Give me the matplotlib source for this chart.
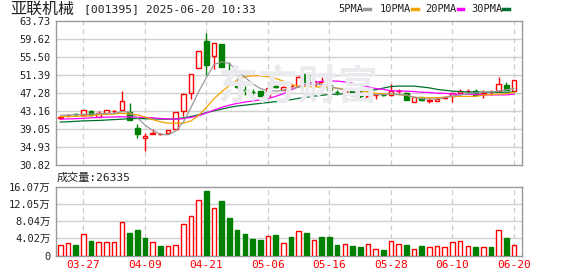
import matplotlib
matplotlib.use("Agg")
import matplotlib.pyplot as plt
from matplotlib.patches import Rectangle

plt.rcParams['font.family'] = ['DejaVu Sans Mono', 'Noto Sans CJK SC']

# daily OHLC (index 0 = 03-24, index 59 = 06-20)
opens = [41.45, 42.2, 42.5, 42.25, 43.1, 41.9, 42.6, 43.1, 43.3, 43.0,
         39.3, 37.1, 37.9, 37.8, 38.1, 39.0, 43.24, 47.3, 53.0, 59.2,
         55.7, 58.5, 49.9, 49.56, 48.0, 47.6, 47.75, 46.7, 48.8, 47.96,
         48.9, 48.9, 51.6, 49.1, 49.4, 49.04, 47.5, 47.3, 47.75, 46.65,
         46.2, 46.8, 46.9, 46.93, 47.7, 47.38, 45.33, 46.4, 45.55, 45.5,
         46.2, 46.6, 47.3, 47.7, 47.83, 47.15, 47.5, 47.7, 49.1, 47.8]
closes = [41.7, 42.3, 42.4, 43.4, 42.3, 42.6, 43.3, 43.2, 45.35, 41.0,
          37.8, 37.45, 38.1, 37.95, 38.8, 42.86, 47.15, 51.67, 56.95, 53.6,
          58.7, 53.2, 49.6, 48.65, 47.85, 47.45, 46.5, 48.5, 48.7, 48.7,
          49.1, 50.9, 49.9, 50.0, 49.7, 48.06, 47.4, 48.13, 46.93, 46.55,
          46.6, 46.9, 46.8, 47.68, 47.8, 45.72, 46.25, 45.72, 45.65, 46.0,
          46.3, 47.23, 47.83, 47.8, 46.78, 47.25, 47.6, 49.4, 48.0, 50.24]
highs = [41.8, 42.5, 42.7, 43.4, 43.4, 43.1, 43.3, 43.4, 47.7, 45.0,
         40.2, 38.1, 39.1, 38.2, 38.9, 42.9, 47.2, 51.7, 56.95, 61.0,
         58.7, 58.5, 54.3, 50.8, 48.9, 48.1, 47.75, 48.5, 49.9, 48.9,
         49.6, 51.1, 51.6, 50.5, 50.9, 49.8, 47.9, 48.2, 47.8, 47.0,
         47.6, 47.2, 47.2, 49.26, 48.3, 47.4, 46.3, 46.4, 46.25, 46.3,
         46.7, 47.23, 48.3, 48.1, 48.3, 47.96, 48.0, 50.9, 49.9, 50.3]
lows = [41.4, 41.9, 42.1, 42.2, 42.1, 41.7, 42.6, 42.6, 43.3, 41.0,
        37.0, 34.0, 37.9, 37.7, 38.0, 38.9, 42.1, 45.87, 53.0, 51.3,
        52.65, 53.2, 49.2, 48.35, 46.9, 46.8, 46.5, 46.7, 48.4, 47.9,
        48.4, 48.8, 49.6, 48.8, 49.2, 48.06, 46.9, 46.6, 46.9, 46.2,
        46.2, 46.0, 46.5, 46.7, 47.2, 45.7, 45.3, 45.45, 44.9, 45.4,
        45.9, 45.3, 47.2, 47.5, 46.78, 46.1, 46.9, 47.6, 48.0, 47.8]

# volume in 万 (10k shares)
volume = [2.5, 3.0, 2.35, 5.1, 3.3, 3.05, 3.05, 3.05, 7.7, 5.2,
          5.9, 4.0, 3.2, 2.1, 2.3, 2.5, 7.45, 9.3, 12.9, 15.0,
          11.0, 12.7, 8.7, 5.9, 4.9, 3.8, 3.5, 4.6, 4.7, 3.0,
          4.2, 5.8, 5.2, 3.7, 4.2, 4.4, 2.5, 2.7, 2.3, 1.9,
          2.7, 1.6, 1.3, 3.45, 2.7, 2.5, 1.6, 2.1, 2.0, 2.3,
          2.0, 3.2, 3.45, 2.3, 1.9, 2.0, 1.9, 6.0, 4.0, 2.5]
vol_up = [1, 1, 0, 1, 0, 1, 1, 1, 1, 0,
          0, 0, 1, 0, 1, 1, 1, 1, 1, 0,
          1, 0, 0, 0, 0, 0, 0, 1, 0, 1,
          0, 1, 0, 1, 0, 0, 0, 1, 0, 0,
          1, 1, 0, 1, 1, 0, 1, 0, 1, 1,
          1, 1, 1, 1, 0, 1, 0, 1, 0, 1]

# moving averages
ma5 = [42.2, 42.2, 42.3, 42.4, 42.5, 42.55, 42.6, 42.6, 43.0, 42.9,
       41.6, 40.0, 38.7, 37.9, 37.7, 38.6, 40.6, 44.0, 47.6, 50.8,
       53.8, 54.4, 54.0, 52.4, 50.9, 49.4, 48.3, 47.8, 47.7, 47.9,
       48.3, 48.6, 49.2, 49.4, 49.2, 48.9, 48.3, 48.0, 47.8, 47.3,
       47.0, 46.9, 46.9, 47.1, 46.9, 46.8, 46.3, 46.0, 45.9, 45.9,
       46.2, 46.6, 46.8, 47.1, 47.3, 47.5, 47.5, 47.7, 48.0, 48.3]
ma10 = [41.9, 41.9, 41.95, 42.0, 42.1, 42.3, 42.4, 42.5, 42.6, 42.5,
        42.3, 41.8, 41.2, 40.7, 40.4, 40.35, 40.4, 40.9, 42.2, 44.0,
        46.0, 47.6, 49.0, 50.2, 51.0, 51.2, 51.2, 51.0, 50.6, 50.0,
        49.2, 48.8, 48.75, 48.7, 48.6, 48.5, 48.4, 48.2, 48.0, 47.8,
        47.5, 47.2, 47.1, 47.0, 46.9, 46.8, 46.3, 46.2, 46.2, 46.2,
        46.3, 46.5, 46.5, 46.5, 46.5, 46.8, 46.9, 47.0, 47.1, 47.4]
ma20 = [41.3, 41.35, 41.4, 41.5, 41.6, 41.7, 41.75, 41.8, 41.85, 41.8,
        41.75, 41.7, 41.6, 41.45, 41.35, 41.3, 41.4, 41.7, 42.1, 42.7,
        43.4, 44.0, 44.5, 44.9, 45.2, 45.45, 45.7, 46.0, 46.5, 47.1,
        48.0, 48.7, 49.3, 49.7, 49.95, 50.0, 50.0, 49.8, 49.5, 49.1,
        48.7, 48.3, 48.1, 47.8, 47.75, 47.7, 47.6, 47.45, 47.4, 47.25,
        47.2, 47.05, 47.0, 47.0, 46.95, 46.9, 46.85, 46.85, 46.85, 47.0]
ma30 = [40.65, 40.7, 40.8, 40.9, 40.95, 41.0, 41.1, 41.2, 41.3, 41.4,
        41.45, 41.4, 41.35, 41.3, 41.3, 41.35, 41.6, 41.9, 42.3, 42.8,
        43.2, 43.6, 44.0, 44.3, 44.5, 44.7, 44.9, 45.1, 45.3, 45.45,
        45.75, 46.05, 46.3, 46.55, 46.75, 46.95, 47.0, 47.1, 47.3, 47.55,
        47.8, 48.0, 48.4, 48.75, 48.85, 48.85, 48.85, 48.65, 48.45, 48.1,
        47.9, 47.7, 47.6, 47.5, 47.5, 47.45, 47.45, 47.45, 47.45, 47.5]

date_pos = [3, 11, 19, 27, 35, 43, 51, 59]
date_labels = ["03-27", "04-09", "04-21", "05-06", "05-16", "05-28", "06-10", "06-20"]
price_ticks = [30.82, 34.93, 39.05, 43.16, 47.28, 51.39, 55.50, 59.62, 63.73]
vol_ticks = [0, 4.02, 8.04, 12.05, 16.07]
vol_labels = ["0", "4.02万", "8.04万", "12.05万", "16.07万"]

RED = "#ff0000"
GREEN = "#008000"
W, H = 578, 276

fig = plt.figure(figsize=(W / 100, H / 100), dpi=100)
ax1 = fig.add_axes([56 / W, 1 - 165 / H, 466 / W, 144 / H])
ax2 = fig.add_axes([56 / W, 1 - 255.5 / H, 466 / W, 69 / H])

n = len(closes)
for ax in (ax1, ax2):
    ax.set_xlim(-0.56, 60.04)
    for s in ax.spines.values():
        s.set_color("#999999")
        s.set_linewidth(1)
    ax.tick_params(length=0, pad=4, labelsize=7.5, colors="#222222")
    for p in date_pos:
        ax.axvline(p, color="#cccccc", lw=0.9, ls=(0, (4, 3)), zorder=0)

# watermark (figure coords)
fig.text(298 / W, 1 - 88 / H, "东方财富", fontsize=29, fontweight="bold",
         color="#ebebef", family="Noto Sans CJK SC", ha="center", va="center", zorder=0)
ax1.patch.set_alpha(0)

ax1.set_ylim(price_ticks[0], price_ticks[-1])
ax1.set_yticks(price_ticks)
ax1.set_yticklabels(["%.2f" % t for t in price_ticks])
ax1.set_xticks([])
for t in price_ticks[1:-1]:
    ax1.axhline(t, color="#d0d0d0", lw=1, zorder=0)

bw = 0.6
for i in range(n):
    o, c, h, l = opens[i], closes[i], highs[i], lows[i]
    col = RED if c >= o else GREEN
    ax1.vlines(i, l, h, color=col, lw=1, zorder=2)
    bot = min(o, c)
    ht = max(abs(c - o), 0.05)
    if c >= o:
        ax1.add_patch(Rectangle((i - bw / 2, bot), bw, ht, facecolor="white",
                                edgecolor=col, lw=1, zorder=3))
    else:
        ax1.add_patch(Rectangle((i - bw / 2, bot), bw, ht, facecolor=col,
                                edgecolor=col, lw=1, zorder=3))

x = list(range(n))
ax1.plot(x, ma30, color="#00702e", lw=0.9, zorder=4)
ax1.plot(x, ma20, color="#ff00ff", lw=0.9, zorder=4)
ax1.plot(x, ma10, color="#f5a300", lw=0.9, zorder=4)
ax1.plot(x, ma5, color="#999999", lw=0.9, zorder=4)

# volume
ax2.set_ylim(0, 16.07)
ax2.set_yticks(vol_ticks)
ax2.set_yticklabels(vol_labels)
for t in vol_ticks[1:-1]:
    ax2.axhline(t, color="#d0d0d0", lw=1, zorder=0)
for i in range(n):
    if vol_up[i]:
        ax2.add_patch(Rectangle((i - bw / 2, 0), bw, volume[i], facecolor="white",
                                edgecolor=RED, lw=1, zorder=3))
    else:
        ax2.add_patch(Rectangle((i - bw / 2, 0), bw, volume[i], facecolor=GREEN,
                                edgecolor=GREEN, lw=1, zorder=3))
ax2.set_xticks(date_pos)
ax2.set_xticklabels(date_labels)
ax2.tick_params(axis="x", colors=RED, pad=3, labelsize=8)

# header texts
fig.text(10 / W, 1 - 9.5 / H, "亚联机械", family="Noto Sans CJK SC", fontsize=11.5,
         va="center", ha="left", color="#222222")
fig.text(84 / W, 1 - 9.5 / H, "[001395] 2025-06-20 10:33", fontsize=8.2,
         va="center", ha="left", color="#222222")
fig.text(57 / W, 1 - 177.5 / H, "成交量:26335", fontsize=8, va="center", ha="left",
         color="#222222")

legend_items = [("5PMA", "#999999", 338.5), ("10PMA", "#f5a300", 380),
                ("20PMA", "#ff00ff", 425.5), ("30PMA", "#00702e", 471)]
for label, col, lx in legend_items:
    t = fig.text(lx / W, 1 - 8.5 / H, label, fontsize=7.5, va="center", ha="left",
                 color="#222222")
    dx = 26 if len(label) == 4 else 32
    fig.add_artist(plt.Line2D([(lx + dx) / W, (lx + dx + 5.5) / W],
                              [1 - 8.5 / H, 1 - 8.5 / H], color=col, lw=2.5))

fig.savefig("out.png", dpi=100)
